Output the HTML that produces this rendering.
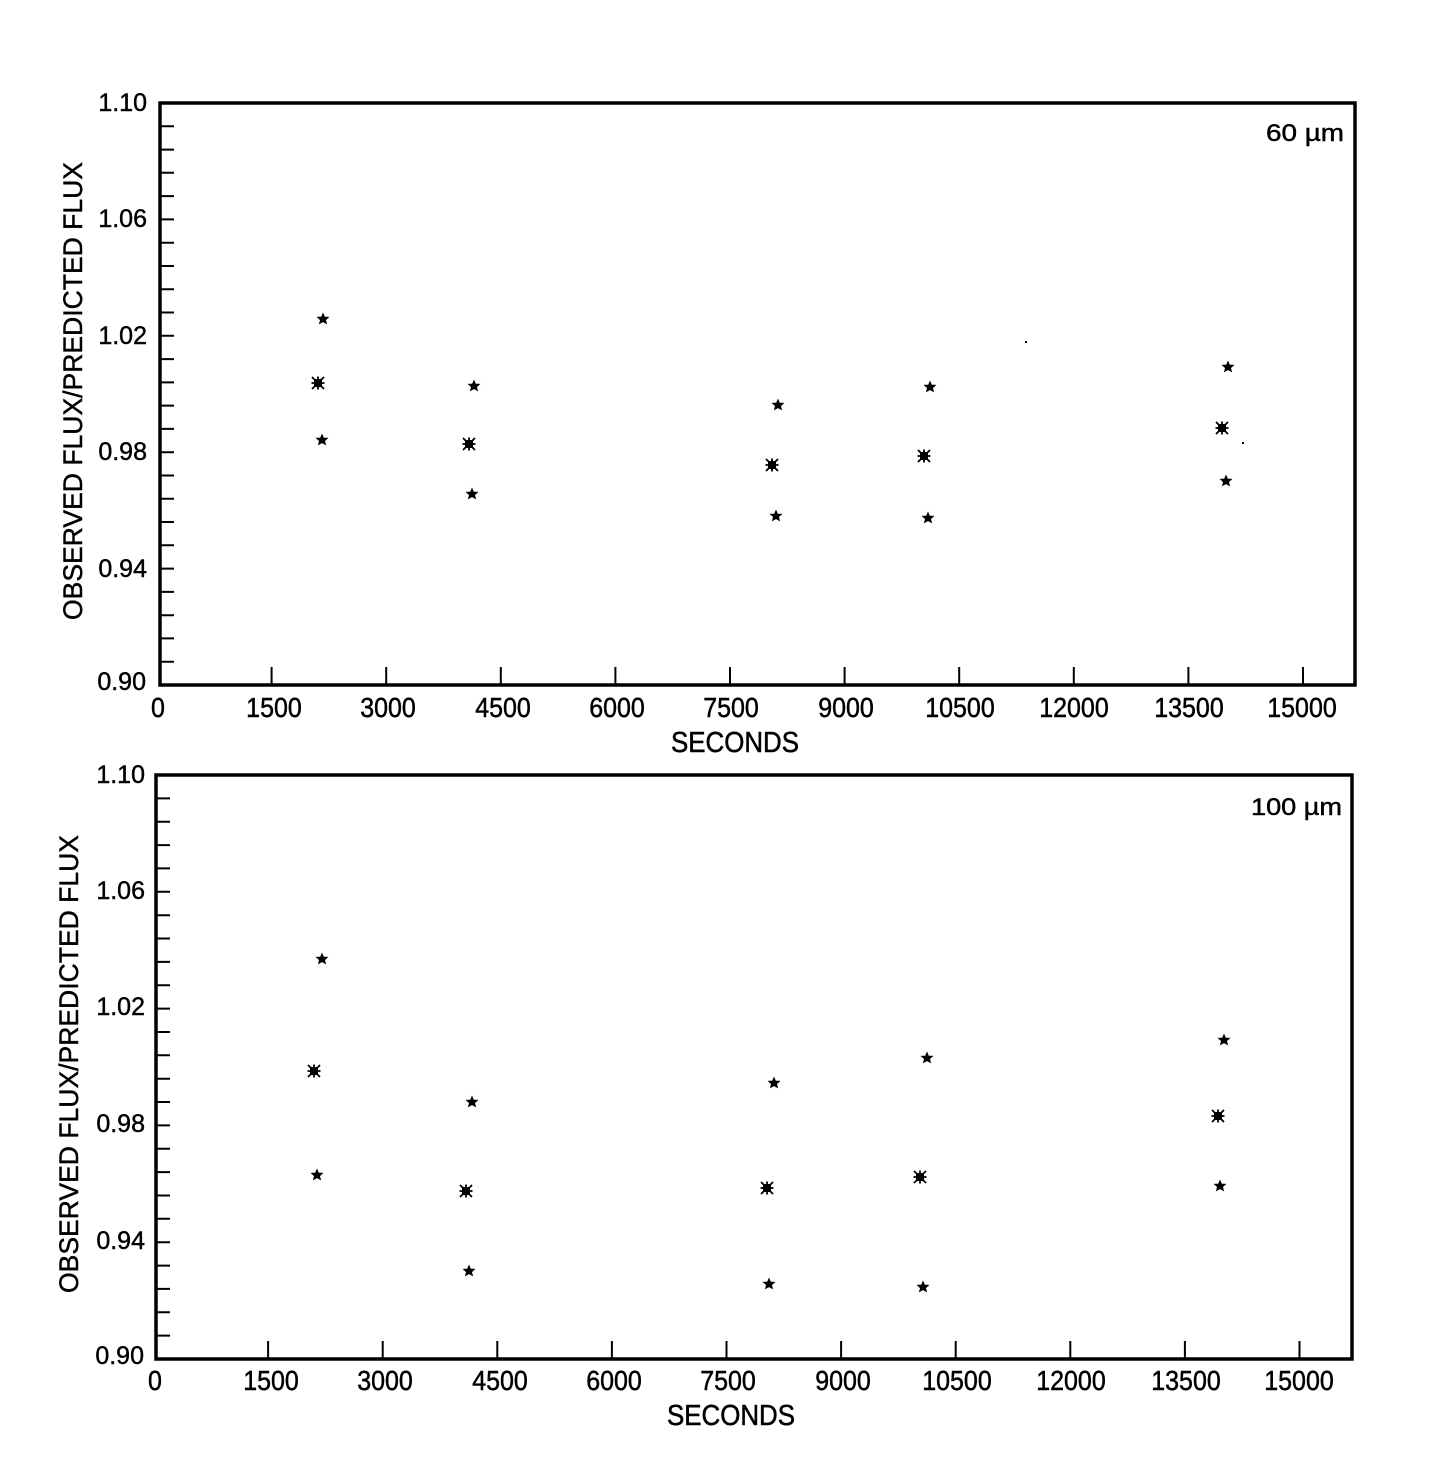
<!DOCTYPE html>
<html><head><meta charset="utf-8"><style>
html,body{margin:0;padding:0;background:#fff;}
svg{display:block;}
text{font-family:"Liberation Sans",Arial,sans-serif;fill:#000;stroke:#000;stroke-width:0.45;}
</style></head><body>
<svg width="1432" height="1483" viewBox="0 0 1432 1483" xmlns="http://www.w3.org/2000/svg">
<defs>
<g id="s"><polygon points="0,-5.5 1.5,-2 5.5,-1.8 2.5,0.9 3.5,4.6 0,2.6 -3.5,4.6 -2.5,0.9 -5.5,-1.8 -1.5,-2" fill="#000" stroke="#000" stroke-width="0.8"/></g>
<g id="m"><rect x="-4" y="-4" width="8" height="8" fill="#000"/><path d="M-6,-6L6,6M6,-6L-6,6M0,-6.5V6.5M-6.5,0H6.5" stroke="#000" stroke-width="1.8"/></g>
</defs>

<!-- TOP PLOT -->
<rect x="160" y="103" width="1195" height="582" fill="none" stroke="#000" stroke-width="3.5"/>
<path stroke="#000" stroke-width="2" fill="none" d="M160,126.3h14M160,149.6h14M160,172.8h14M160,196.1h14M160,219.4h14M160,242.7h14M160,266h14M160,289.2h14M160,312.5h14M160,335.8h14M160,359.1h14M160,382.4h14M160,405.6h14M160,428.9h14M160,452.2h14M160,475.5h14M160,498.8h14M160,522h14M160,545.3h14M160,568.6h14M160,591.9h14M160,615.2h14M160,638.4h14M160,661.7h14
M271.6,685v-18M386.2,685v-18M500.8,685v-18M615.4,685v-18M730,685v-18M844.6,685v-18M959.2,685v-18M1073.8,685v-18M1188.4,685v-18M1303,685v-18"/>
<g font-size="25" text-anchor="end">
<text x="147" y="111">1.10</text>
<text x="147" y="227">1.06</text>
<text x="147" y="344">1.02</text>
<text x="147" y="460">0.98</text>
<text x="147" y="577">0.94</text>
<text x="146" y="690">0.90</text>
</g>
<g font-size="25" text-anchor="middle" transform="matrix(1,0,0,1.12,0,-86.04)">
<text x="158" y="717">0</text>
<text x="274" y="717">1500</text>
<text x="388" y="717">3000</text>
<text x="503" y="717">4500</text>
<text x="617" y="717">6000</text>
<text x="731" y="717">7500</text>
<text x="846" y="717">9000</text>
<text x="960" y="717">10500</text>
<text x="1074" y="717">12000</text>
<text x="1189" y="717">13500</text>
<text x="1302" y="717">15000</text>
</g>
<g transform="matrix(1,0,0,1.16,0,-120.32)">
<text x="735" y="752" font-size="25" text-anchor="middle" textLength="128" lengthAdjust="spacingAndGlyphs">SECONDS</text>
</g>
<text transform="translate(82,391) rotate(-90)" font-size="26.5" text-anchor="middle" textLength="458" lengthAdjust="spacingAndGlyphs">OBSERVED FLUX/PREDICTED FLUX</text>
<text x="1266" y="141" font-size="24" textLength="78" lengthAdjust="spacingAndGlyphs">60 µm</text>

<use href="#s" x="323" y="319"/><use href="#m" x="318" y="383"/><use href="#s" x="322" y="440"/>
<use href="#s" x="474" y="386"/><use href="#m" x="469" y="444"/><use href="#s" x="472" y="494"/>
<use href="#s" x="778" y="405"/><use href="#m" x="772" y="465"/><use href="#s" x="776" y="516"/>
<use href="#s" x="930" y="387"/><use href="#m" x="924" y="456"/><use href="#s" x="928" y="518"/>
<use href="#s" x="1228" y="367"/><use href="#m" x="1222" y="428"/><use href="#s" x="1226" y="481"/>
<rect x="1025" y="341" width="2" height="2" fill="#000"/>
<rect x="1242" y="442" width="2" height="2" fill="#000"/>

<!-- BOTTOM PLOT -->
<rect x="156" y="775" width="1196" height="584" fill="none" stroke="#000" stroke-width="3.5"/>
<path stroke="#000" stroke-width="2" fill="none" d="M156,798.4h14M156,821.7h14M156,845.1h14M156,868.4h14M156,891.8h14M156,915.2h14M156,938.5h14M156,961.9h14M156,985.2h14M156,1008.6h14M156,1032h14M156,1055.3h14M156,1078.7h14M156,1102h14M156,1125.4h14M156,1148.8h14M156,1172.1h14M156,1195.5h14M156,1218.8h14M156,1242.2h14M156,1265.6h14M156,1288.9h14M156,1312.3h14M156,1335.6h14
M268.1,1359v-18M382.7,1359v-18M497.3,1359v-18M611.9,1359v-18M726.5,1359v-18M841.1,1359v-18M955.7,1359v-18M1070.3,1359v-18M1184.9,1359v-18M1299.5,1359v-18"/>
<g font-size="25" text-anchor="end">
<text x="145" y="783">1.10</text>
<text x="145" y="899">1.06</text>
<text x="145" y="1015">1.02</text>
<text x="145" y="1132">0.98</text>
<text x="145" y="1249">0.94</text>
<text x="144" y="1364">0.90</text>
</g>
<g font-size="25" text-anchor="middle" transform="matrix(1,0,0,1.12,0,-166.8)">
<text x="155" y="1390">0</text>
<text x="271" y="1390">1500</text>
<text x="385" y="1390">3000</text>
<text x="500" y="1390">4500</text>
<text x="614" y="1390">6000</text>
<text x="728" y="1390">7500</text>
<text x="843" y="1390">9000</text>
<text x="957" y="1390">10500</text>
<text x="1071" y="1390">12000</text>
<text x="1186" y="1390">13500</text>
<text x="1299" y="1390">15000</text>
</g>
<g transform="matrix(1,0,0,1.16,0,-228)">
<text x="731" y="1425" font-size="25" text-anchor="middle" textLength="128" lengthAdjust="spacingAndGlyphs">SECONDS</text>
</g>
<text transform="translate(78,1064) rotate(-90)" font-size="26.5" text-anchor="middle" textLength="458" lengthAdjust="spacingAndGlyphs">OBSERVED FLUX/PREDICTED FLUX</text>
<text x="1251" y="815" font-size="24" textLength="91" lengthAdjust="spacingAndGlyphs">100 µm</text>

<use href="#s" x="322" y="959"/><use href="#m" x="314" y="1071"/><use href="#s" x="317" y="1175"/>
<use href="#s" x="472" y="1102"/><use href="#m" x="466" y="1191"/><use href="#s" x="469" y="1271"/>
<use href="#s" x="774" y="1083"/><use href="#m" x="767" y="1188"/><use href="#s" x="769" y="1284"/>
<use href="#s" x="927" y="1058"/><use href="#m" x="920" y="1177"/><use href="#s" x="923" y="1287"/>
<use href="#s" x="1224" y="1040"/><use href="#m" x="1218" y="1116"/><use href="#s" x="1220" y="1186"/>
</svg>
</body></html>
